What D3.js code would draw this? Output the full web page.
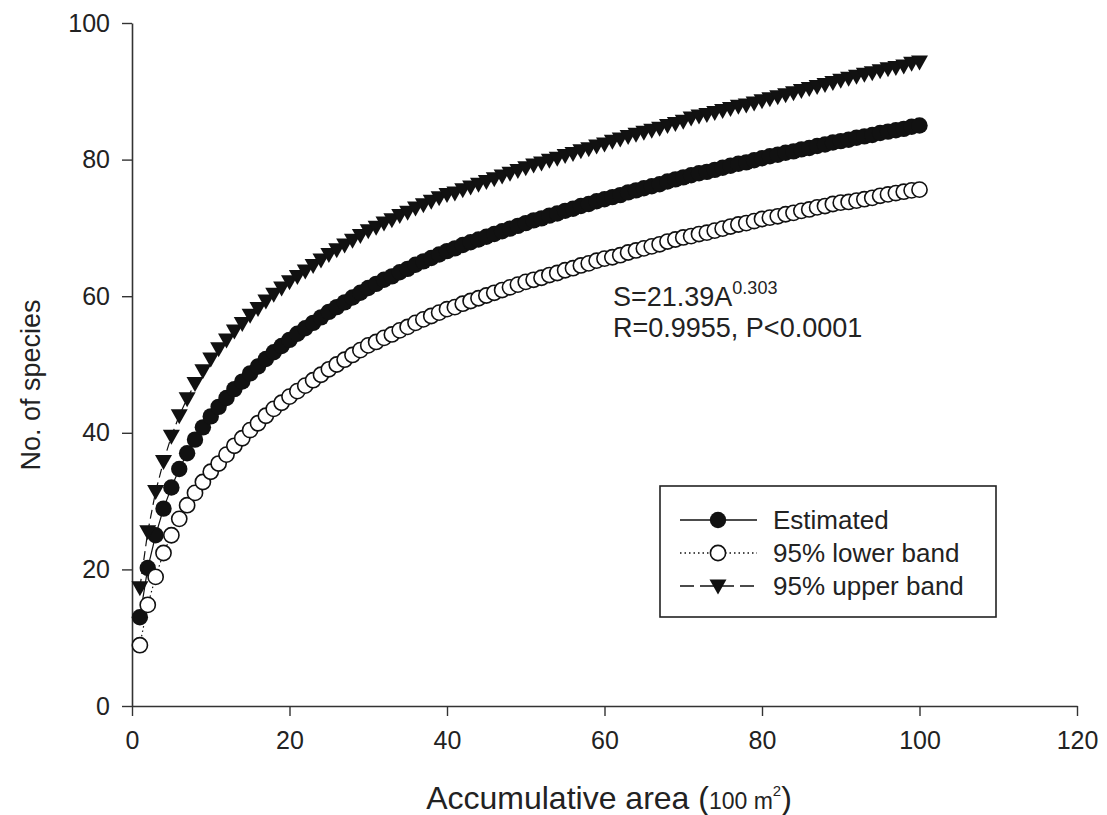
<!DOCTYPE html>
<html>
<head>
<meta charset="utf-8">
<script src="https://cdn.jsdelivr.net/npm/d3@7"></script>
<style>
  body { margin: 0; background: #fff; }
  svg { display: block; }
  text { font-family: "Liberation Sans", Arial, sans-serif; }
</style>
</head>
<body>
<div id="chart"></div>
<script>
// x = accumulative area (100 m2), 1..100
var area = d3.range(1, 101);

// estimated species (filled circles)
var estimated = [
  13.0, 20.2, 25.0, 28.9, 32.0, 34.7, 37.0, 39.0, 40.8, 42.4,
  43.8, 45.1, 46.4, 47.5, 48.7, 49.7, 50.8, 51.8, 52.7, 53.6,
  54.5, 55.3, 56.1, 56.9, 57.7, 58.4, 59.1, 59.8, 60.5, 61.2,
  61.8, 62.4, 62.9, 63.5, 64.0, 64.6, 65.1, 65.6, 66.1, 66.6,
  67.0, 67.5, 67.9, 68.3, 68.7, 69.1, 69.5, 69.9, 70.3, 70.7,
  71.1, 71.4, 71.8, 72.1, 72.5, 72.8, 73.2, 73.5, 73.9, 74.2,
  74.5, 74.8, 75.2, 75.5, 75.8, 76.1, 76.4, 76.8, 77.1, 77.4,
  77.7, 78.0, 78.2, 78.5, 78.8, 79.1, 79.4, 79.6, 79.9, 80.2,
  80.5, 80.7, 81.0, 81.2, 81.5, 81.7, 82.0, 82.2, 82.5, 82.7,
  82.9, 83.2, 83.4, 83.6, 83.9, 84.1, 84.3, 84.5, 84.8, 85.0
];

// 95% lower band (open circles)
var lowerBand = [
  8.9, 14.8, 18.9, 22.4, 25.0, 27.4, 29.4, 31.2, 32.8, 34.3,
  35.5, 36.8, 38.1, 39.2, 40.4, 41.4, 42.5, 43.5, 44.4, 45.3,
  46.1, 46.9, 47.7, 48.5, 49.3, 50.0, 50.7, 51.4, 52.1, 52.8,
  53.3, 53.9, 54.4, 55.0, 55.5, 56.1, 56.6, 57.1, 57.6, 58.1,
  58.4, 58.9, 59.3, 59.7, 60.1, 60.5, 60.9, 61.3, 61.7, 62.1,
  62.4, 62.7, 63.1, 63.4, 63.8, 64.1, 64.5, 64.8, 65.2, 65.5,
  65.7, 66.0, 66.4, 66.7, 67.0, 67.3, 67.6, 68.0, 68.3, 68.6,
  68.8, 69.1, 69.3, 69.6, 69.9, 70.2, 70.5, 70.7, 71.0, 71.3,
  71.5, 71.7, 72.0, 72.2, 72.5, 72.7, 73.0, 73.2, 73.5, 73.7,
  73.8, 74.0, 74.2, 74.4, 74.7, 74.9, 75.1, 75.3, 75.5, 75.6
];

// 95% upper band (triangles)
var upperBand = [
  17.3, 25.5, 31.4, 35.8, 39.5, 42.5, 45.0, 47.2, 49.1, 50.8,
  52.3, 53.6, 54.9, 56.0, 57.2, 58.2, 59.3, 60.3, 61.2, 62.1,
  62.9, 63.7, 64.5, 65.3, 66.1, 66.8, 67.5, 68.2, 68.9, 69.6,
  70.1, 70.7, 71.2, 71.8, 72.3, 72.9, 73.4, 73.9, 74.4, 74.9,
  75.1, 75.6, 76.0, 76.4, 76.8, 77.2, 77.6, 78.0, 78.4, 78.8,
  79.2, 79.5, 79.9, 80.2, 80.6, 80.9, 81.3, 81.6, 82.0, 82.3,
  82.7, 83.0, 83.4, 83.7, 84.0, 84.3, 84.6, 85.0, 85.3, 85.6,
  86.1, 86.4, 86.6, 86.9, 87.2, 87.5, 87.8, 88.0, 88.3, 88.6,
  88.9, 89.2, 89.5, 89.8, 90.1, 90.4, 90.7, 91.0, 91.3, 91.6,
  91.9, 92.2, 92.5, 92.7, 93.0, 93.3, 93.5, 93.7, 94.1, 94.3
];

var xTicks = [0, 20, 40, 60, 80, 100, 120];
var yTicks = [0, 20, 40, 60, 80, 100];
var legendLabels = ['Estimated', '95% lower band', '95% upper band'];

var width = 1107, height = 815;
var axisColor = '#333';
var textColor = '#222';

var svg = d3.select('#chart').append('svg')
    .attr('width', width)
    .attr('height', height);

var x = d3.scaleLinear().domain([0, 120]).range([132, 1077]);
var y = d3.scaleLinear().domain([0, 100]).range([706, 23]);

//axes
var xAxis = svg.append('g')
    .attr('transform', 'translate(0,' + y(0) + ')')
    .call(d3.axisBottom(x).tickValues(xTicks).tickSize(10).tickPadding(15).tickSizeOuter(0));
xAxis.select('.domain').attr('stroke', axisColor).attr('stroke-width', 1.6);
xAxis.selectAll('.tick line').attr('stroke', axisColor).attr('stroke-width', 1.4);
xAxis.selectAll('.tick text')
    .attr('fill', textColor)
    .style('font-family', '"Liberation Sans", Arial, sans-serif')
    .style('font-size', '25px');

var yAxis = svg.append('g')
    .attr('transform', 'translate(' + x(0) + ',0)')
    .call(d3.axisLeft(y).tickValues(yTicks).tickSize(10).tickPadding(12).tickSizeOuter(0));
yAxis.select('.domain').attr('stroke', axisColor).attr('stroke-width', 1.6);
yAxis.selectAll('.tick line').attr('stroke', axisColor).attr('stroke-width', 1.4);
yAxis.selectAll('.tick text')
    .attr('fill', textColor)
    .style('font-family', '"Liberation Sans", Arial, sans-serif')
    .style('font-size', '25px');

//axis titles
var xTitle = svg.append('text')
    .attr('x', 609)
    .attr('y', 809)
    .attr('text-anchor', 'middle')
    .attr('fill', textColor)
    .style('font-size', '32px');
xTitle.append('tspan').text('Accumulative area ');
xTitle.append('tspan').text('(');
xTitle.append('tspan').style('font-size', '23px').text('100 m');
xTitle.append('tspan').style('font-size', '15px').attr('dy', -13).text('2');
xTitle.append('tspan').attr('dy', 13).text(')');

svg.append('text')
    .attr('transform', 'translate(40,385) rotate(-90)')
    .attr('text-anchor', 'middle')
    .attr('fill', textColor)
    .style('font-size', '27px')
    .text('No. of species');

//series setup
var series = [
    { name: 'est', values: estimated, dash: null },
    { name: 'low', values: lowerBand, dash: '1.5,3' },
    { name: 'up', values: upperBand, dash: '9,5' }
];

var line = d3.line()
    .x(function(d, i) { return x(area[i]); })
    .y(function(d) { return y(d); });

var triangle = 'M-8.5,-6.5L8.5,-6.5L0,8.5Z';

function drawMarker(g, name) {
    if (name === 'est') {
        g.append('circle').attr('r', 8.2).attr('fill', '#111');
    } else if (name === 'low') {
        g.append('circle').attr('r', 7.6).attr('fill', '#fff').attr('stroke', '#111').attr('stroke-width', 1.6);
    } else {
        g.append('path').attr('d', triangle).attr('fill', '#111');
    }
}

series.forEach(function(s) {
    svg.append('path')
        .datum(s.values)
        .attr('d', line)
        .attr('fill', 'none')
        .attr('stroke', '#111')
        .attr('stroke-width', 1.2)
        .attr('stroke-dasharray', s.dash);

    var pts = svg.append('g').selectAll('g')
        .data(s.values)
        .enter().append('g')
        .attr('transform', function(d, i) {
            return 'translate(' + x(area[i]) + ',' + y(d) + ')';
        });
    pts.each(function() { drawMarker(d3.select(this), s.name); });
});

//annotation
var eq = svg.append('text')
    .attr('x', 613)
    .attr('y', 306)
    .attr('fill', textColor)
    .style('font-size', '27px');
eq.append('tspan').text('S=21.39A');
eq.append('tspan').attr('dy', -12).style('font-size', '18px').text('0.303');

svg.append('text')
    .attr('x', 613)
    .attr('y', 337)
    .attr('fill', textColor)
    .style('font-size', '27px')
    .text('R=0.9955, P<0.0001');

//legend
var legend = svg.append('g');
legend.append('rect')
    .attr('x', 660)
    .attr('y', 486)
    .attr('width', 336)
    .attr('height', 131)
    .attr('fill', '#fff')
    .attr('stroke', '#222')
    .attr('stroke-width', 1.6);

var rows = legend.selectAll('g.row')
    .data(series)
    .enter().append('g')
    .attr('class', 'row')
    .attr('transform', function(d, i) { return 'translate(0,' + (520 + i * 33) + ')'; });

rows.append('line')
    .attr('x1', 680).attr('x2', 757)
    .attr('stroke', '#111')
    .attr('stroke-width', 1.4)
    .attr('stroke-dasharray', function(d) { return d.name === 'low' ? '1.5,3' : (d.name === 'up' ? '14,6' : null); });

rows.each(function(d) {
    var g = d3.select(this).append('g').attr('transform', 'translate(718,0)');
    drawMarker(g, d.name);
});

rows.append('text')
    .attr('x', 773)
    .attr('dy', '0.35em')
    .attr('fill', textColor)
    .style('font-size', '26px')
    .text(function(d, i) { return legendLabels[i]; });
</script>
</body>
</html>
